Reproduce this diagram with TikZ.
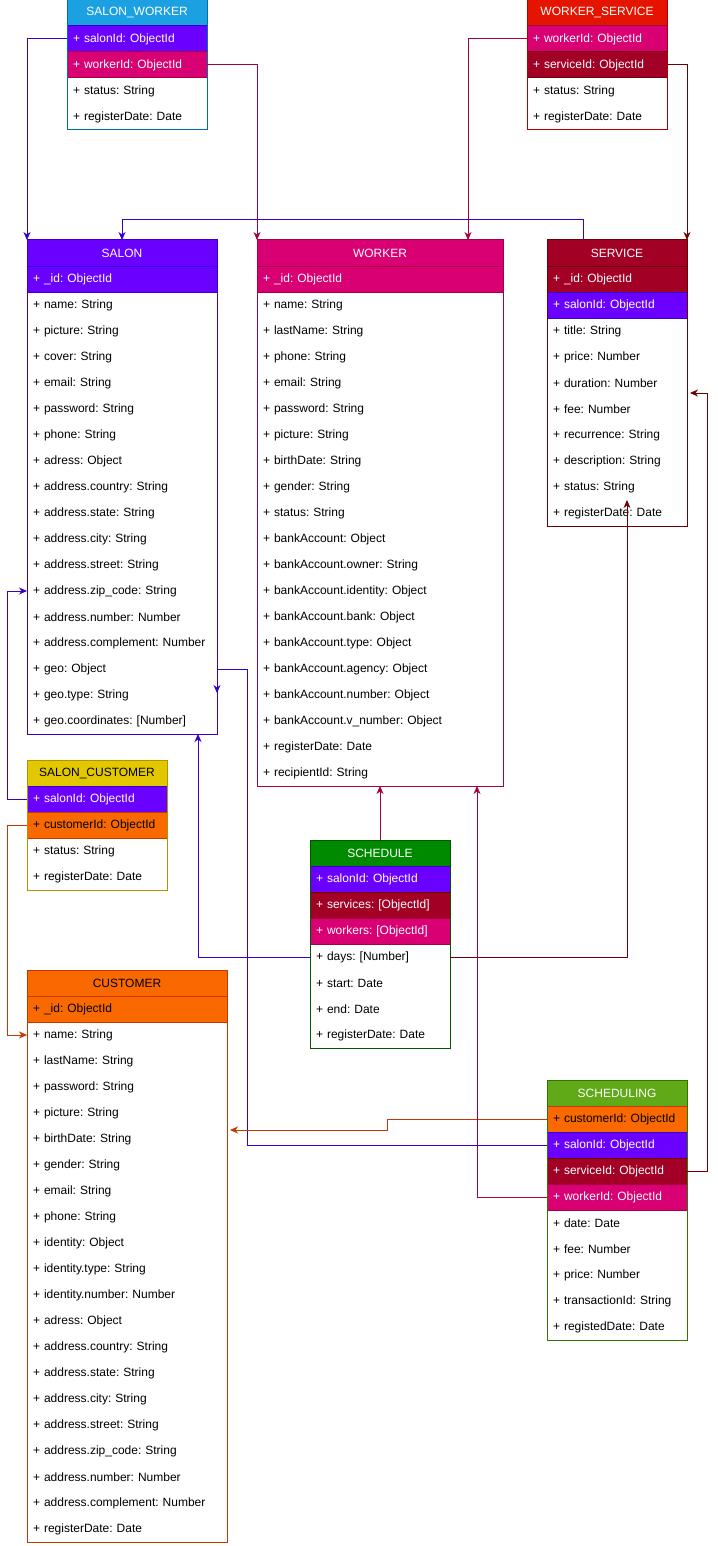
\documentclass[tikz,border=0pt]{standalone}
\usepackage{fontspec}
\setmainfont{Liberation Sans}
\usetikzlibrary{arrows.meta,calc}

\definecolor{cpurple}{HTML}{6A00FF}  \definecolor{bpurple}{HTML}{3700CC}
\definecolor{cmagenta}{HTML}{D80073} \definecolor{bmagenta}{HTML}{A50040}
\definecolor{cdarkred}{HTML}{A20025} \definecolor{bdarkred}{HTML}{6F0000}
\definecolor{corange}{HTML}{FA6800}  \definecolor{borange}{HTML}{C73500}
\definecolor{cblue}{HTML}{1BA1E2}    \definecolor{bblue}{HTML}{006EAF}
\definecolor{cred}{HTML}{E51400}     \definecolor{bred}{HTML}{B20000}
\definecolor{cyellow}{HTML}{E3C800}  \definecolor{byellow}{HTML}{B09500}
\definecolor{cgreen}{HTML}{008A00}   \definecolor{bgreen}{HTML}{005700}
\definecolor{clime}{HTML}{60A917}    \definecolor{blime}{HTML}{2D7600}
\frenchspacing

\begin{document}
\begin{tikzpicture}[x=1pt,y=-1pt,line width=1pt,
    every node/.style={font=\fontsize{12}{14}\selectfont\frenchspacing,inner xsep=6pt,inner ysep=0pt,
      outer sep=0pt,minimum height=26pt,anchor=north west},
    hdr/.style={text width=#1,align=center},
    field/.style={text width=#1,align=left},
    fk/.style={-{Stealth[length=8pt,width=7pt,inset=2.5pt]}}]
  \useasboundingbox (0,0) rectangle (717,1546);

  % SALON_WORKER
  \node[hdr=128pt,fill=cblue,draw=bblue,text=white] (sw) at (67,0) {SALON\_WORKER};
  \node[field=128pt,fill=cpurple,draw=bpurple,text=white] (sw-1) at (67,26) {+ salonId: ObjectId};
  \node[field=128pt,fill=cmagenta,draw=bmagenta,text=white] (sw-2) at (67,52) {+ workerId: ObjectId};
  \foreach \f [count=\i from 3] in {status: String, registerDate: Date}
    \node[field=128pt] (sw-\i) at (67,{26*\i}) {+ \f};
  \draw[bblue] (sw.north west) rectangle (sw-4.south east);

  % WORKER_SERVICE
  \node[hdr=128pt,fill=cred,draw=bred,text=white] (ws) at (527,0) {WORKER\_SERVICE};
  \node[field=128pt,fill=cmagenta,draw=bmagenta,text=white] (ws-1) at (527,26) {+ workerId: ObjectId};
  \node[field=128pt,fill=cdarkred,draw=bdarkred,text=white] (ws-2) at (527,52) {+ serviceId: ObjectId};
  \foreach \f [count=\i from 3] in {status: String, registerDate: Date}
    \node[field=128pt] (ws-\i) at (527,{26*\i}) {+ \f};
  \draw[bred] (ws.north west) rectangle (ws-4.south east);

  % SALON
  \node[hdr=178pt,fill=cpurple,draw=bpurple,text=white] (salon) at (27,240) {SALON};
  \node[field=178pt,fill=cpurple,draw=bpurple,text=white] (salon-0) at (27,266) {+ \_id: ObjectId};
  \foreach \f [count=\i] in {name: String, picture: String, cover: String, email: String,
      password: String, phone: String, adress: Object, address.country: String,
      address.state: String, address.city: String, address.street: String,
      address.zip\_code: String, address.number: Number, address.complement: Number,
      geo: Object, geo.type: String, geo.coordinates: [Number]}
    \node[field=178pt] (salon-\i) at (27,{266+26*\i}) {+ \f};
  \draw[bpurple] (salon.north west) rectangle (salon-17.south east);

  % WORKER
  \node[hdr=234pt,fill=cmagenta,draw=bmagenta,text=white] (worker) at (257,240) {WORKER};
  \node[field=234pt,fill=cmagenta,draw=bmagenta,text=white] (worker-0) at (257,266) {+ \_id: ObjectId};
  \foreach \f [count=\i] in {name: String, lastName: String, phone: String, email: String,
      password: String, picture: String, birthDate: String, gender: String, status: String,
      bankAccount: Object, bankAccount.owner: String, bankAccount.identity: Object,
      bankAccount.bank: Object, bankAccount.type: Object, bankAccount.agency: Object,
      bankAccount.number: Object, bankAccount.v\_number: Object, registerDate: Date,
      recipientId: String}
    \node[field=234pt] (worker-\i) at (257,{266+26*\i}) {+ \f};
  \draw[bmagenta] (worker.north west) rectangle (worker-19.south east);

  % SERVICE
  \node[hdr=128pt,fill=cdarkred,draw=bdarkred,text=white] (service) at (547,240) {SERVICE};
  \node[field=128pt,fill=cdarkred,draw=bdarkred,text=white] (srv-0) at (547,266) {+ \_id: ObjectId};
  \node[field=128pt,fill=cpurple,draw=bpurple,text=white] (srv-s) at (547,292) {+ salonId: ObjectId};
  \foreach \f [count=\i] in {title: String, price: Number, duration: Number, fee: Number,
      recurrence: String, description: String, status: String, registerDate: Date}
    \node[field=128pt] (srv-\i) at (547,{292+26*\i}) {+ \f};
  \draw[bdarkred] (service.north west) rectangle (srv-8.south east);

  % SALON_CUSTOMER
  \node[hdr=128pt,fill=cyellow,draw=byellow] (sc) at (27,760) {SALON\_CUSTOMER};
  \node[field=128pt,fill=cpurple,draw=bpurple,text=white] (sc-1) at (27,786) {+ salonId: ObjectId};
  \node[field=128pt,fill=corange,draw=borange] (sc-2) at (27,812) {+ customerId: ObjectId};
  \foreach \f [count=\i from 3] in {status: String, registerDate: Date}
    \node[field=128pt] (sc-\i) at (27,{760+26*\i}) {+ \f};
  \draw[byellow] (sc.north west) rectangle (sc-4.south east);

  % CUSTOMER
  \node[hdr=188pt,fill=corange,draw=borange] (cust) at (27,970) {CUSTOMER};
  \node[field=188pt,fill=corange,draw=borange] (cust-0) at (27,996) {+ \_id: ObjectId};
  \foreach \f [count=\i] in {name: String, lastName: String, password: String, picture: String,
      birthDate: String, gender: String, email: String, phone: String, identity: Object,
      identity.type: String, identity.number: Number, adress: Object, address.country: String,
      address.state: String, address.city: String, address.street: String,
      address.zip\_code: String, address.number: Number, address.complement: Number,
      registerDate: Date}
    \node[field=188pt] (cust-\i) at (27,{996+26*\i}) {+ \f};
  \draw[borange] (cust.north west) rectangle (cust-20.south east);

  % SCHEDULE
  \node[hdr=128pt,fill=cgreen,draw=bgreen,text=white] (sched) at (310,840) {SCHEDULE};
  \node[field=128pt,fill=cpurple,draw=bpurple,text=white] (sched-s) at (310,866) {+ salonId: ObjectId};
  \node[field=128pt,fill=cdarkred,draw=bdarkred,text=white] (sched-v) at (310,892) {+ services: [ObjectId]};
  \node[field=128pt,fill=cmagenta,draw=bmagenta,text=white] (sched-w) at (310,918) {+ workers: [ObjectId]};
  \foreach \f [count=\i] in {days: [Number], start: Date, end: Date, registerDate: Date}
    \node[field=128pt] (sched-\i) at (310,{918+26*\i}) {+ \f};
  \draw[bgreen] (sched.north west) rectangle (sched-4.south east);

  % SCHEDULING
  \node[hdr=128pt,fill=clime,draw=blime,text=white] (sing) at (547,1080) {SCHEDULING};
  \node[field=128pt,fill=corange,draw=borange] (sing-1) at (547,1106) {+ customerId: ObjectId};
  \node[field=128pt,fill=cpurple,draw=bpurple,text=white] (sing-2) at (547,1132) {+ salonId: ObjectId};
  \node[field=128pt,fill=cdarkred,draw=bdarkred,text=white] (sing-3) at (547,1158) {+ serviceId: ObjectId};
  \node[field=128pt,fill=cmagenta,draw=bmagenta,text=white] (sing-4) at (547,1184) {+ workerId: ObjectId};
  \foreach \f [count=\i from 5] in {date: Date, fee: Number, price: Number,
      transactionId: String, registedDate: Date}
    \node[field=128pt] (sing-\i) at (547,{1080+26*\i}) {+ \f};
  \draw[blime] (sing.north west) rectangle (sing-9.south east);

  % references
  \draw[fk,bpurple] (sw-1.west) -| (salon.north west);
  \draw[fk,bmagenta] (sw-2.east) -| (worker.north west);
  \draw[fk,bmagenta] (ws-1.west) -| ($(worker.north east)+(-35,0)$);
  \draw[fk,bdarkred] (ws-2.east) -| (service.north east);
  \draw[fk,bpurple] ($(service.north west)+(36,0)$) -- ++(0,-20) -| (salon.north);
  \draw[fk,bpurple] (sc-1.west) -- ++(-20,0) |- (salon-12.west);
  \draw[fk,borange] (sc-2.west) -- ++(-20,0) |- (cust-1.west);
  \draw[fk,bmagenta] (sched.north) -- (worker-19.south);
  \draw[fk,bpurple] (sched-1.west) -| ($(salon-17.south west)+(171,0)$);
  \draw[fk,bdarkred] (sched-1.east) -| ($(srv-7.south west)+(80,0)$);
  \draw[fk,bpurple] (sing-2.west) -| ($(salon-15.east)+(30,0)$) -- (salon-15.east) -- ++(0,24);
  \draw[fk,borange] (sing-1.west) -- ++(-160,0) |- ($(cust-4.south east)+(3,4)$);
  \draw[fk,bdarkred] (sing-3.east) -- ++(20,0) |- ($(srv-3.south east)+(3,-3)$);
  \draw[fk,bmagenta] (sing-4.west) -| ($(worker-19.south west)+(220,0)$);
\end{tikzpicture}
\end{document}
